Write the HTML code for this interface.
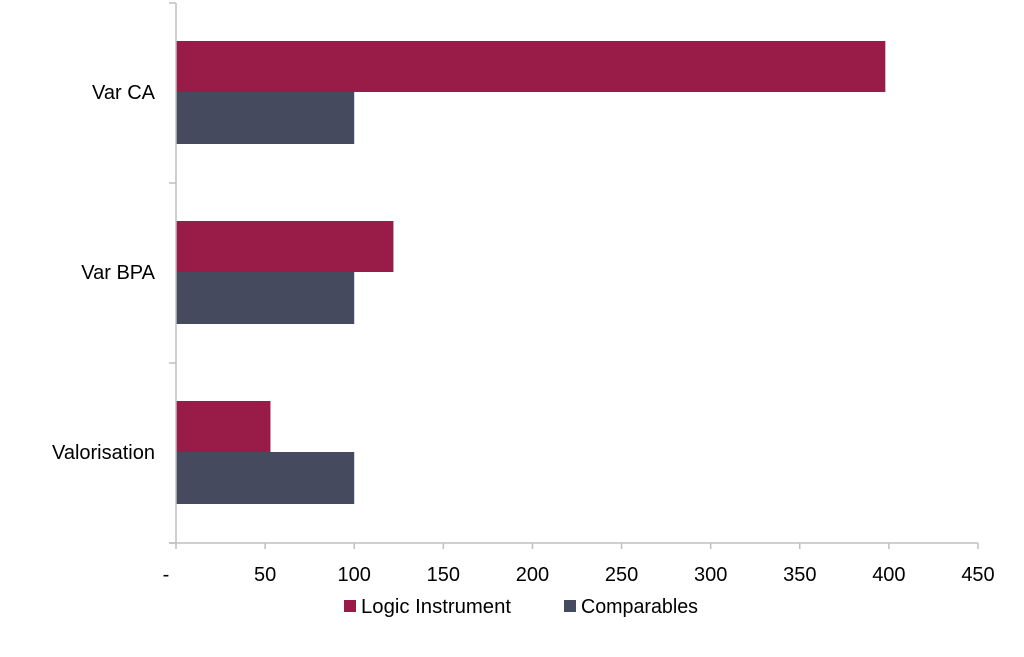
<!DOCTYPE html>
<html><head><meta charset="utf-8"><style>
body{margin:0;background:#fff;}
svg{display:block;font-family:"Liberation Sans",Calibri,sans-serif;}
</style></head><body>
<svg id="chart" width="1024" height="657"></svg>
<script>
const categories=["Var CA","Var BPA","Valorisation"];
const logicValues=[398,122,53];
const compValues=[100,100,100];
const tickValues=[0,50,100,150,200,250,300,350,400,450];
const tickLabels=["-","50","100","150","200","250","300","350","400","450"];
const seriesNames=["Logic Instrument","Comparables"];

const NS="http://www.w3.org/2000/svg";
const svg=document.getElementById('chart');
const x0=176,x1=978,vmax=450,yTop=3,yBot=543;
const band=(yBot-yTop)/categories.length;
function xs(v){return x0+(v/vmax)*(x1-x0);}
function mk(t,a,p){const e=document.createElementNS(NS,t);for(const k in a)e.setAttribute(k,a[k]);(p||svg).appendChild(e);return e;}

categories.forEach((c,i)=>{
  const b0=yTop+i*band;
  const r1=mk('rect',{x:x0,y:b0+38,width:xs(logicValues[i])-x0,height:51,fill:'#991B47'});
  
  
  const r2=mk('rect',{x:x0,y:b0+89,width:xs(compValues[i])-x0,height:52,fill:'#454A5E'});
  
  
  const t=mk('text',{x:155,y:b0+96,'text-anchor':'end','font-size':20,fill:'#000'});
  t.textContent=c;
  
  
});
for(let i=0;i<=categories.length;i++){
  const y=yTop+i*band;
  const tk=mk('line',{x1:169,x2:x0,y1:y,y2:y,stroke:'#BFBFBF','stroke-width':1.5});
  
  
}
const ya=mk('line',{x1:x0,x2:x0,y1:yTop,y2:yBot,stroke:'#BFBFBF','stroke-width':1.5});


const xa=mk('line',{x1:169,x2:x1,y1:yBot,y2:yBot,stroke:'#BFBFBF','stroke-width':1.5});


tickValues.forEach((v,i)=>{
  const x=xs(v);
  const tk=mk('line',{x1:x,x2:x,y1:yBot,y2:yBot+6,stroke:'#BFBFBF','stroke-width':1.5});
  
  
  const t=mk('text',{x:i===0?x-10:x,y:581,'text-anchor':'middle','font-size':20,fill:'#000'});
  t.textContent=tickLabels[i];
  
  
});
const legX=[344,564],legC=['#991B47','#454A5E'];
seriesNames.forEach((n,i)=>{
  const g=mk('g',{});
  
  
  mk('rect',{x:legX[i],y:600,width:12,height:12,fill:legC[i]},g);
  const t=mk('text',{x:legX[i]+17,y:613,'font-size':20,fill:'#000',textLength:i===0?150:117,lengthAdjust:'spacingAndGlyphs'},g);
  t.textContent=n;
});
</script>
</body></html>
